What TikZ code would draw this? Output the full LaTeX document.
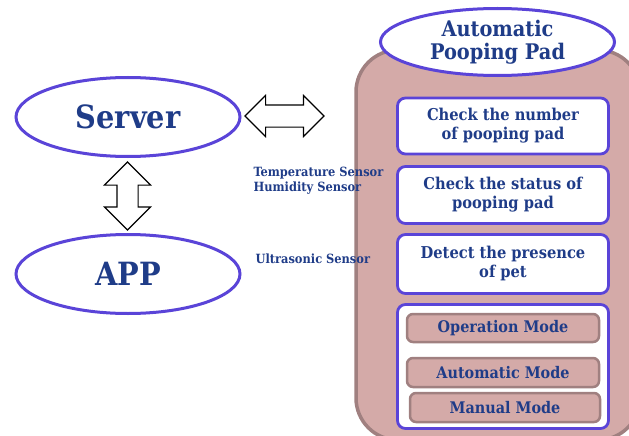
\documentclass[tikz,border=0pt]{standalone}
\usepackage{fontspec}
\setmainfont{DejaVu Serif Condensed}
\usetikzlibrary{shapes.geometric,shapes.arrows}

\definecolor{padpink}{HTML}{D4AAA8}
\definecolor{padedge}{HTML}{A08080}
\definecolor{ringblue}{HTML}{5A44D8}
\definecolor{inkblue}{HTML}{1F3C88}

\begin{document}
\begin{tikzpicture}[x=1pt,y=-1pt,
    oval/.style={ellipse,draw=ringblue,line width=3pt,fill=white,inner sep=0pt,text=inkblue,align=center},
    taskbox/.style={draw=ringblue,line width=2.8pt,fill=white,rounded corners=8pt,minimum width=211pt,
        text=inkblue,align=center,font=\bfseries\fontsize{16.3}{19}\selectfont},
    modebox/.style={draw=padedge,line width=2.5pt,fill=padpink,rounded corners=6pt,
        text=inkblue,font=\bfseries\fontsize{16}{17}\selectfont},
    blockarrow/.style={double arrow,draw=black,line width=1.1pt,fill=white,inner xsep=0pt}]
    \useasboundingbox (0,0) rectangle (629,436);
    \clip (0,0) rectangle (629,436);

    % the pad body
    \node[draw=padedge,line width=3.5pt,fill=padpink,rounded corners=42pt,
          minimum width=284pt,minimum height=390pt] (pad) at (498,245) {};
    \node[oval,minimum width=234pt,minimum height=67pt,
          font=\bfseries\fontsize{21.5}{23}\selectfont] (padtitle) at (497.5,42) {Automatic\\Pooping Pad};

    % server and app
    \node[oval,minimum width=224pt,minimum height=79pt,font=\bfseries\fontsize{32}{34}\selectfont] (server) at (128,117) {Server};
    \node[oval,minimum width=224pt,minimum height=79pt,font=\bfseries\fontsize{32}{34}\selectfont] (app) at (128,274) {APP};

    \node[blockarrow,minimum height=79pt,inner ysep=10.5pt,double arrow head extend=9.5pt] (link) at (284.5,116) {};
    \node[blockarrow,rotate=90,minimum height=68pt,inner ysep=10pt,double arrow head extend=12.5pt] (sync) at (127.5,196) {};

    % tasks
    \node[taskbox,minimum height=56pt] (count) at (503,126) {Check the number\\of pooping pad};
    \node[taskbox,minimum height=57pt] (status) at (503,195) {Check the status of\\pooping pad};
    \node[taskbox,minimum height=59pt] (detect) at (503,264) {Detect the presence\\of pet};
    \node[taskbox,minimum height=124pt] (modes) at (503,366.5) {};

    \node[modebox,minimum width=192pt,minimum height=28pt] (opmode) at (503,328) {Operation Mode};
    \node[modebox,minimum width=192pt,minimum height=29pt] (automode) at (503,372.5) {Automatic Mode};
    \node[modebox,minimum width=190pt,minimum height=29pt] (manmode) at (505,407.5) {Manual Mode};

    % sensors
    \node[anchor=base west,inkblue,align=left,font=\bfseries\fontsize{12.7}{14.5}\selectfont] (climate) at (250,191)
        {Temperature Sensor\\Humidity Sensor};
    \node[anchor=base west,inkblue,font=\bfseries\fontsize{12.7}{14}\selectfont] (sonar) at (252,263) {Ultrasonic Sensor};
\end{tikzpicture}
\end{document}
